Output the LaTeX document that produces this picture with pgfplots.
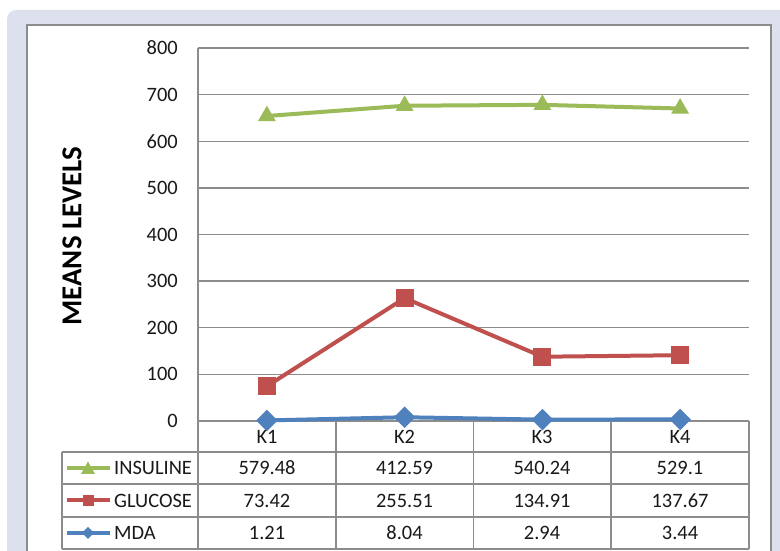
\documentclass[border=0pt]{standalone}
\usepackage{fontspec}
\setmainfont{Carlito}
\usepackage{pgfplots}
\pgfplotsset{compat=1.18}
\definecolor{bgc}{RGB}{221,225,238}
\definecolor{gridc}{RGB}{140,140,140}
\definecolor{cins}{RGB}{155,187,89}
\definecolor{cglu}{RGB}{192,80,77}
\definecolor{cmda}{RGB}{79,129,189}
\definecolor{txt}{RGB}{25,25,25}
\begin{document}
\begin{tikzpicture}[x=1bp,y=1bp]
\useasboundingbox (0,0) rectangle (780,551);
\fill[bgc, rounded corners=9bp] (7,-30) rectangle (820,541);
\filldraw[fill=white, draw=gridc, line width=1.3bp] (27,-30) rectangle (771,526);
% axis frame lines (left and bottom only)
\draw[gridc, line width=1.3bp] (198,503) -- (198,130) -- (749,130);
\begin{axis}[
  at={(198bp,130bp)}, anchor=south west, scale only axis,
  width=551bp, height=373bp,
  xmin=0.5, xmax=4.5, ymin=0, ymax=800,
  ytick={0,100,...,800}, xtick=\empty,
  axis line style={draw=none},
  ymajorgrids, grid style={draw=gridc, line width=1.3bp},
  major tick length=0pt,
  /pgf/number format/assume math mode=true,
  yticklabel style={font=\fontsize{20.5}{20.5}\selectfont, text=txt, anchor=east, inner sep=0pt, xshift=-20bp},
  stack plots=y, clip=false,
]
% MDA
\addplot[cmda, line width=4bp, mark=square*, mark size=5.6bp, mark options={rotate=45, solid}]
  coordinates {(1,1.21) (2,8.04) (3,2.94) (4,3.44)};
% GLUCOSE
\addplot[cglu, line width=4bp, mark=square*, mark size=7bp, mark options={solid}]
  coordinates {(1,73.42) (2,255.51) (3,134.91) (4,137.67)};
% INSULINE
\addplot[cins, line width=4bp, mark=triangle*, mark size=9.3bp, mark options={solid, line width=1bp}]
  coordinates {(1,579.48) (2,412.59) (3,540.24) (4,529.1)};
\end{axis}
% title
\node[rotate=90, font=\bfseries\fontsize{29}{29}\selectfont, text=black] at (72,315) {MEANS LEVELS};
% data table
\begin{scope}[draw=gridc, line width=1.3bp]
\foreach \yy in {99,67,34,2} \draw (62,\yy) -- (749,\yy);
\draw (62,99) -- (62,2);
\foreach \xx in {198,336,473.5,611,749} \draw (\xx,130) -- (\xx,2);
\end{scope}
\begin{scope}[font=\fontsize{20.5}{20.5}\selectfont, text=txt]
\node at (267,114) {K1};
\node at (404.5,114) {K2};
\node at (542,114) {K3};
\node at (680,114) {K4};
\node[anchor=west, inner sep=0pt] at (114,83) {INSULINE};
\node[anchor=west, inner sep=0pt] at (114,50.5) {GLUCOSE};
\node[anchor=west, inner sep=0pt] at (114,18) {MDA};
\node at (267,83) {579.48};
\node at (404.5,83) {412.59};
\node at (542,83) {540.24};
\node at (680,83) {529.1};
\node at (267,50.5) {73.42};
\node at (404.5,50.5) {255.51};
\node at (542,50.5) {134.91};
\node at (680,50.5) {137.67};
\node at (267,18) {1.21};
\node at (404.5,18) {8.04};
\node at (542,18) {2.94};
\node at (680,18) {3.44};
\end{scope}
% legend keys in table
\draw[cins, line width=4bp] (67,83) -- (110,83);
\fill[cins] (81,77) -- (95,77) -- (88,89.5) -- cycle;
\draw[cglu, line width=4bp] (67,50.5) -- (110,50.5);
\fill[cglu] (82.5,45) rectangle (93.5,56);
\draw[cmda, line width=4bp] (67,18) -- (110,18);
\fill[cmda] (88,24) -- (94,18) -- (88,12) -- (82,18) -- cycle;
\end{tikzpicture}
\end{document}
